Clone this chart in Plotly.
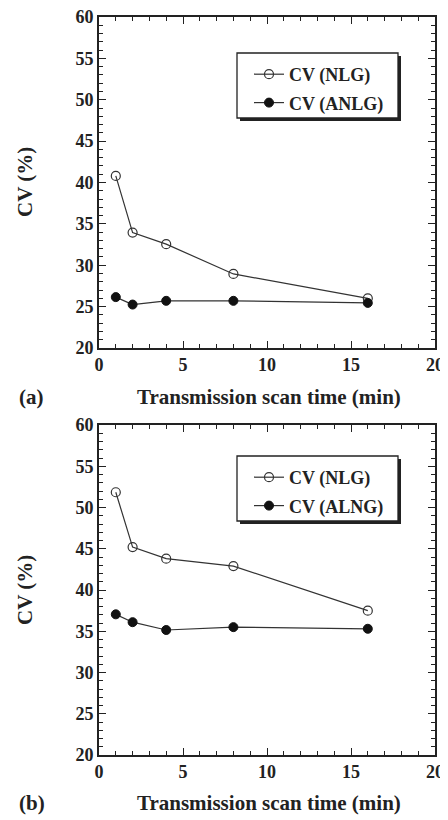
import plotly.graph_objects as go

# Data
scan_time = [1, 2, 4, 8, 16]
cv_nlg_a = [40.8, 33.95, 32.55, 28.95, 26.0]
cv_anlg_a = [26.15, 25.25, 25.7, 25.7, 25.45]
cv_nlg_b = [51.85, 45.2, 43.8, 42.9, 37.5]
cv_alng_b = [37.05, 36.1, 35.15, 35.5, 35.3]

names_a = ["CV (NLG)", "CV (ANLG)"]
names_b = ["CV (NLG)", "CV (ALNG)"]

x_ticks = [0, 5, 10, 15, 20]
y_ticks = [20, 25, 30, 35, 40, 45, 50, 55, 60]

# page body has an 8px margin, so the figure is offset by 8px
OFF = 8
W, H = 448 - OFF, 820 - OFF
FONT = "Liberation Serif"
LINE = "#333333"

def px(x):
    return (x - OFF) / W

def py(y):
    return 1 - (y - OFF) / H

fig = go.Figure()

open_marker = dict(symbol="circle-open", size=9, color=LINE, line=dict(width=1.2, color=LINE))
fill_marker = dict(symbol="circle", size=9, color="#111111", line=dict(width=1, color="#111111"))

fig.add_trace(go.Scatter(x=scan_time, y=cv_nlg_a, mode="lines+markers", name=names_a[0],
                         line=dict(color=LINE, width=1.2), marker=open_marker, legendgroup="a1",
                         xaxis="x", yaxis="y", legend="legend"))
fig.add_trace(go.Scatter(x=scan_time, y=cv_anlg_a, mode="lines+markers", name=names_a[1],
                         line=dict(color=LINE, width=1.2), marker=fill_marker, legendgroup="a2",
                         xaxis="x", yaxis="y", legend="legend"))
fig.add_trace(go.Scatter(x=scan_time, y=cv_nlg_b, mode="lines+markers", name=names_b[0],
                         line=dict(color=LINE, width=1.2), marker=open_marker, legendgroup="b1",
                         xaxis="x2", yaxis="y2", legend="legend2"))
fig.add_trace(go.Scatter(x=scan_time, y=cv_alng_b, mode="lines+markers", name=names_b[1],
                         line=dict(color=LINE, width=1.2), marker=fill_marker, legendgroup="b2",
                         xaxis="x2", yaxis="y2", legend="legend2"))

tickfont = dict(family=FONT, size=18, color="#222222", weight="bold")

def xaxis(anchor):
    return dict(domain=[px(99), px(435)], anchor=anchor, range=[0, 20], automargin=False,
                tickvals=x_ticks, ticks="inside", ticklen=7, tickwidth=1.3, tickcolor="#222",
                minor=dict(dtick=1, ticks="inside", ticklen=4, tickwidth=1, tickcolor="#222"),
                showline=True, linecolor="#222", linewidth=1.6, mirror="ticks",
                showgrid=False, zeroline=False, tickfont=tickfont, ticklabeloverflow="allow")

def yaxis(anchor, domain):
    return dict(domain=domain, anchor=anchor, range=[20, 60], automargin=False,
                tickvals=y_ticks, ticks="inside", ticklen=7, tickwidth=1.3, tickcolor="#222",
                minor=dict(dtick=1, ticks="inside", ticklen=4, tickwidth=1, tickcolor="#222"),
                showline=True, linecolor="#222", linewidth=1.6, mirror="ticks",
                showgrid=False, zeroline=False, tickfont=tickfont, ticklabeloverflow="allow")

legend_common = dict(bgcolor="rgba(0,0,0,0)", borderwidth=0,
                     font=dict(family=FONT, size=18, color="#222", weight="bold"),
                     xanchor="left", yanchor="top", tracegroupgap=2, itemwidth=30)

fig.update_layout(
    width=W, height=H, template="none",
    margin=dict(l=0, r=0, t=0, b=0, autoexpand=False),
    paper_bgcolor="white", plot_bgcolor="white",
    xaxis=xaxis("y"),
    yaxis=yaxis("x", [py(348), py(17)]),
    xaxis2=xaxis("y2"),
    yaxis2=yaxis("x2", [py(755), py(425)]),
    legend=dict(x=px(249), y=py(56), **legend_common),
    legend2=dict(x=px(249), y=py(459), **legend_common),
    showlegend=True,
)

# legend boxes with drop shadows
for top, bottom in [(53, 118), (456, 521)]:
    fig.add_shape(type="rect", xref="paper", yref="paper",
                  x0=px(240), x1=px(401), y0=py(bottom + 3), y1=py(top + 3),
                  fillcolor="#222", line=dict(width=0), layer="above")
    fig.add_shape(type="rect", xref="paper", yref="paper",
                  x0=px(237), x1=px(398), y0=py(bottom), y1=py(top),
                  fillcolor="white", line=dict(width=1.3, color="#222"), layer="above")

title_font = dict(family=FONT, size=21, color="#222", weight="bold")
for ymid, ylab, lab in [(182, 397, "(a)"), (590, 803, "(b)")]:
    fig.add_annotation(text="CV (%)", x=px(25), y=py(ymid), xref="paper", yref="paper",
                       textangle=-90, showarrow=False, font=title_font,
                       xanchor="center", yanchor="middle")
    fig.add_annotation(text="Transmission scan time (min)", x=px(269), y=py(ylab),
                       xref="paper", yref="paper", showarrow=False, font=title_font,
                       xanchor="center", yanchor="middle")
    fig.add_annotation(text=lab, x=px(17), y=py(ylab), xref="paper", yref="paper",
                       showarrow=False, font=title_font, xanchor="left", yanchor="middle")

fig.write_html("out.html")
